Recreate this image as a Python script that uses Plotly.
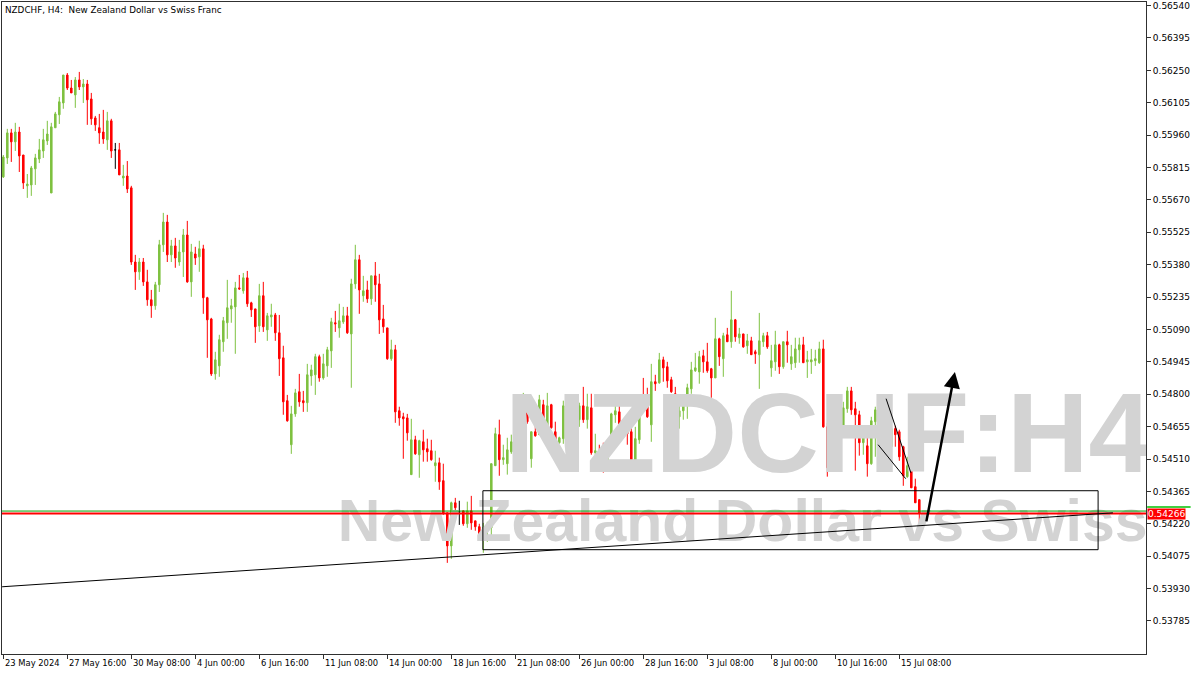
import plotly.graph_objects as go

# ---------------- data (NZDCHF, H4) ----------------
opens = [
    0.55773, 0.55858, 0.55970, 0.55930, 0.55974, 0.55871, 0.55733, 0.55737, 0.55809, 0.55853,
    0.55889, 0.55934, 0.55701, 0.55993, 0.56051, 0.56104, 0.56229, 0.56171, 0.56140, 0.56207,
    0.56176, 0.56189, 0.56122, 0.56037, 0.55993, 0.55974, 0.55939, 0.56024, 0.55894, 0.55894,
    0.55768, 0.55777, 0.55724, 0.55392, 0.55348, 0.55392, 0.55303, 0.55223, 0.55196, 0.55290,
    0.55469, 0.55571, 0.55424, 0.55464, 0.55392, 0.55437, 0.55513, 0.55303, 0.55428, 0.55415,
    0.55451, 0.55232, 0.55137, 0.54891, 0.54927, 0.55035, 0.55120, 0.55182, 0.55191, 0.55276,
    0.55263, 0.55321, 0.55209, 0.55182, 0.55106, 0.55241, 0.55088, 0.55146, 0.55155, 0.55075,
    0.54963, 0.54771, 0.54574, 0.54712, 0.54811, 0.54771, 0.54762, 0.54882, 0.54887, 0.54968,
    0.54873, 0.54927, 0.54994, 0.55120, 0.55097, 0.55124, 0.55151, 0.55070, 0.55294, 0.55402,
    0.55241, 0.55267, 0.55227, 0.55330, 0.55294, 0.55137, 0.55097, 0.54959, 0.54999, 0.54726,
    0.54699, 0.54694, 0.54440, 0.54596, 0.54529, 0.54587, 0.54556, 0.54547, 0.54480, 0.54493,
    0.54413, 0.54269, 0.54121, 0.54314, 0.54274, 0.54278, 0.54220, 0.54278, 0.54233, 0.54207,
    0.54157, 0.54198, 0.54202, 0.54480, 0.54619, 0.54507, 0.54489, 0.54542, 0.54583, 0.54659,
    0.54703, 0.54717, 0.54511, 0.54632, 0.54619, 0.54753, 0.54627, 0.54753, 0.54632, 0.54583,
    0.54601, 0.54748, 0.54708, 0.54677, 0.54686, 0.54748, 0.54686, 0.54739, 0.54538, 0.54547,
    0.54511, 0.54458, 0.54569, 0.54708, 0.54721, 0.54672, 0.54632, 0.54632, 0.54498, 0.54596,
    0.54788, 0.54766, 0.54663, 0.54856, 0.54851, 0.54954, 0.54923, 0.54865, 0.54802, 0.54699,
    0.54726, 0.54762, 0.54824, 0.54905, 0.54900, 0.54972, 0.54945, 0.54914, 0.54873, 0.55048,
    0.54959, 0.55066, 0.55035, 0.55133, 0.55053, 0.55070, 0.55017, 0.55039, 0.54990, 0.54977,
    0.55035, 0.55062, 0.54918, 0.54945, 0.55021, 0.54923, 0.55035, 0.54936, 0.54941, 0.54999,
    0.55021, 0.54945, 0.54945, 0.54950, 0.54941, 0.55003, 0.54654, 0.54471, 0.54592, 0.54694,
    0.54636, 0.54735, 0.54815, 0.54735, 0.54708, 0.54583, 0.54569, 0.54489, 0.54677, 0.54730,
    0.54677, 0.54739, 0.54565, 0.54646, 0.54632, 0.54565, 0.54431, 0.54484, 0.54386, 0.54328,
]
highs = [
    0.55871, 0.55988, 0.55988, 0.56015, 0.55997, 0.55871, 0.55786, 0.55822, 0.55876, 0.55943,
    0.55988, 0.56024, 0.56015, 0.56064, 0.56131, 0.56229, 0.56238, 0.56207, 0.56220, 0.56243,
    0.56211, 0.56207, 0.56149, 0.56046, 0.56055, 0.56073, 0.56064, 0.56033, 0.55925, 0.55925,
    0.55827, 0.55844, 0.55733, 0.55424, 0.55410, 0.55410, 0.55357, 0.55267, 0.55303, 0.55491,
    0.55612, 0.55603, 0.55491, 0.55500, 0.55491, 0.55540, 0.55576, 0.55473, 0.55460, 0.55487,
    0.55469, 0.55236, 0.55142, 0.54990, 0.55066, 0.55146, 0.55312, 0.55227, 0.55303, 0.55334,
    0.55343, 0.55352, 0.55214, 0.55182, 0.55294, 0.55303, 0.55164, 0.55205, 0.55164, 0.55155,
    0.55017, 0.54797, 0.54748, 0.54824, 0.54891, 0.54815, 0.54936, 0.54932, 0.54981, 0.54977,
    0.54981, 0.55012, 0.55142, 0.55173, 0.55205, 0.55191, 0.55191, 0.55317, 0.55469, 0.55424,
    0.55330, 0.55308, 0.55330, 0.55392, 0.55339, 0.55200, 0.55097, 0.55044, 0.55021, 0.54744,
    0.54717, 0.54712, 0.54690, 0.54614, 0.54596, 0.54641, 0.54601, 0.54596, 0.54547, 0.54516,
    0.54489, 0.54269, 0.54319, 0.54336, 0.54323, 0.54278, 0.54319, 0.54345, 0.54233, 0.54220,
    0.54224, 0.54229, 0.54489, 0.54650, 0.54686, 0.54574, 0.54605, 0.54619, 0.54690, 0.54726,
    0.54806, 0.54726, 0.54632, 0.54672, 0.54797, 0.54775, 0.54806, 0.54757, 0.54677, 0.54610,
    0.54771, 0.54762, 0.54721, 0.54748, 0.54762, 0.54833, 0.54802, 0.54802, 0.54623, 0.54574,
    0.54583, 0.54583, 0.54717, 0.54775, 0.54748, 0.54686, 0.54690, 0.54654, 0.54654, 0.54797,
    0.54873, 0.54829, 0.54936, 0.54887, 0.54985, 0.54968, 0.54945, 0.54878, 0.54833, 0.54757,
    0.54771, 0.54847, 0.54945, 0.54985, 0.54994, 0.54999, 0.55030, 0.54918, 0.55142, 0.55053,
    0.55075, 0.55097, 0.55263, 0.55137, 0.55097, 0.55070, 0.55070, 0.55057, 0.54999, 0.55164,
    0.55075, 0.55079, 0.55021, 0.55084, 0.55026, 0.55035, 0.55084, 0.55021, 0.55053, 0.55053,
    0.55057, 0.54994, 0.55003, 0.54999, 0.55035, 0.55044, 0.54672, 0.54601, 0.54739, 0.54703,
    0.54766, 0.54833, 0.54833, 0.54766, 0.54726, 0.54636, 0.54627, 0.54699, 0.54744, 0.54739,
    0.54793, 0.54779, 0.54694, 0.54659, 0.54641, 0.54569, 0.54520, 0.54493, 0.54422, 0.54328,
]
lows = [
    0.55768, 0.55831, 0.55840, 0.55889, 0.55795, 0.55719, 0.55679, 0.55688, 0.55737, 0.55835,
    0.55858, 0.55916, 0.55701, 0.55993, 0.56010, 0.56078, 0.56162, 0.56149, 0.56082, 0.56162,
    0.56104, 0.56006, 0.56006, 0.55979, 0.55921, 0.55921, 0.55894, 0.55858, 0.55809, 0.55782,
    0.55733, 0.55701, 0.55379, 0.55267, 0.55312, 0.55285, 0.55196, 0.55142, 0.55178, 0.55258,
    0.55437, 0.55392, 0.55392, 0.55366, 0.55375, 0.55325, 0.55299, 0.55236, 0.55379, 0.55348,
    0.55160, 0.54963, 0.54882, 0.54865, 0.54878, 0.54990, 0.55048, 0.55120, 0.54981, 0.55267,
    0.55250, 0.55191, 0.55146, 0.55030, 0.55079, 0.55079, 0.55039, 0.55102, 0.55039, 0.54882,
    0.54708, 0.54677, 0.54533, 0.54699, 0.54744, 0.54721, 0.54721, 0.54838, 0.54797, 0.54856,
    0.54865, 0.54878, 0.54918, 0.55079, 0.55053, 0.55115, 0.55070, 0.54829, 0.55272, 0.55160,
    0.55214, 0.55209, 0.55200, 0.55214, 0.55070, 0.55075, 0.54954, 0.54950, 0.54672, 0.54659,
    0.54511, 0.54592, 0.54440, 0.54529, 0.54426, 0.54498, 0.54498, 0.54502, 0.54408, 0.54372,
    0.54260, 0.54045, 0.54063, 0.54251, 0.54215, 0.54211, 0.54202, 0.54193, 0.54189, 0.54157,
    0.54090, 0.54139, 0.54153, 0.54480, 0.54435, 0.54484, 0.54440, 0.54533, 0.54493, 0.54614,
    0.54703, 0.54668, 0.54471, 0.54610, 0.54619, 0.54623, 0.54623, 0.54646, 0.54538, 0.54578,
    0.54578, 0.54659, 0.54623, 0.54632, 0.54654, 0.54672, 0.54646, 0.54529, 0.54489, 0.54489,
    0.54449, 0.54458, 0.54560, 0.54672, 0.54627, 0.54623, 0.54574, 0.54489, 0.54493, 0.54578,
    0.54748, 0.54694, 0.54587, 0.54815, 0.54847, 0.54856, 0.54829, 0.54806, 0.54694, 0.54646,
    0.54686, 0.54690, 0.54802, 0.54900, 0.54847, 0.54896, 0.54896, 0.54784, 0.54873, 0.54927,
    0.54878, 0.55035, 0.55008, 0.55035, 0.55026, 0.55008, 0.54981, 0.54977, 0.54936, 0.54824,
    0.55012, 0.55003, 0.54878, 0.54905, 0.54891, 0.54914, 0.54941, 0.54909, 0.54918, 0.54941,
    0.54941, 0.54873, 0.54891, 0.54927, 0.54936, 0.54650, 0.54431, 0.54466, 0.54587, 0.54646,
    0.54632, 0.54717, 0.54708, 0.54458, 0.54525, 0.54529, 0.54431, 0.54484, 0.54520, 0.54569,
    0.54677, 0.54677, 0.54547, 0.54565, 0.54502, 0.54390, 0.54426, 0.54381, 0.54314, 0.54220,
]
closes = [
    0.55862, 0.55970, 0.55930, 0.55974, 0.55867, 0.55746, 0.55741, 0.55813, 0.55858, 0.55894,
    0.55939, 0.55965, 0.55997, 0.56055, 0.56109, 0.56229, 0.56171, 0.56149, 0.56207, 0.56176,
    0.56189, 0.56118, 0.56033, 0.56006, 0.55970, 0.55943, 0.56024, 0.55889, 0.55894, 0.55782,
    0.55777, 0.55719, 0.55392, 0.55348, 0.55392, 0.55303, 0.55223, 0.55196, 0.55290, 0.55469,
    0.55571, 0.55424, 0.55464, 0.55410, 0.55437, 0.55513, 0.55303, 0.55437, 0.55410, 0.55451,
    0.55232, 0.55133, 0.54891, 0.54954, 0.55044, 0.55129, 0.55187, 0.55196, 0.55276, 0.55272,
    0.55321, 0.55205, 0.55178, 0.55102, 0.55241, 0.55102, 0.55151, 0.55155, 0.55075, 0.54959,
    0.54766, 0.54681, 0.54712, 0.54806, 0.54766, 0.54762, 0.54887, 0.54909, 0.54968, 0.54873,
    0.54936, 0.54999, 0.55124, 0.55115, 0.55129, 0.55151, 0.55075, 0.55294, 0.55402, 0.55267,
    0.55263, 0.55227, 0.55330, 0.55290, 0.55133, 0.55102, 0.54959, 0.54999, 0.54721, 0.54694,
    0.54690, 0.54627, 0.54596, 0.54533, 0.54592, 0.54551, 0.54542, 0.54507, 0.54493, 0.54408,
    0.54269, 0.54121, 0.54314, 0.54292, 0.54274, 0.54220, 0.54278, 0.54224, 0.54207, 0.54175,
    0.54202, 0.54207, 0.54489, 0.54623, 0.54507, 0.54516, 0.54551, 0.54587, 0.54659, 0.54708,
    0.54721, 0.54677, 0.54632, 0.54614, 0.54775, 0.54623, 0.54748, 0.54650, 0.54583, 0.54605,
    0.54748, 0.54708, 0.54677, 0.54712, 0.54748, 0.54686, 0.54744, 0.54538, 0.54547, 0.54525,
    0.54458, 0.54574, 0.54712, 0.54726, 0.54668, 0.54641, 0.54623, 0.54498, 0.54601, 0.54788,
    0.54762, 0.54699, 0.54856, 0.54847, 0.54954, 0.54918, 0.54860, 0.54811, 0.54699, 0.54726,
    0.54766, 0.54829, 0.54909, 0.54918, 0.54968, 0.54945, 0.54905, 0.54873, 0.55048, 0.54968,
    0.55062, 0.55035, 0.55133, 0.55057, 0.55070, 0.55012, 0.55039, 0.54977, 0.54981, 0.55039,
    0.55062, 0.55012, 0.54950, 0.55021, 0.54923, 0.55035, 0.55021, 0.54968, 0.55003, 0.55021,
    0.54941, 0.54954, 0.54954, 0.54959, 0.55003, 0.54654, 0.54471, 0.54596, 0.54694, 0.54650,
    0.54739, 0.54815, 0.54730, 0.54708, 0.54583, 0.54605, 0.54489, 0.54681, 0.54730, 0.54686,
    0.54739, 0.54699, 0.54646, 0.54619, 0.54520, 0.54435, 0.54480, 0.54381, 0.54314, 0.54266,
]

time_tick_bars = [0, 16, 32, 48, 64, 80, 96, 112, 128, 144, 160, 176, 192, 208, 224]
time_tick_labels = ["23 May 2024", "27 May 16:00", "30 May 08:00", "4 Jun 00:00", "6 Jun 16:00",
                    "11 Jun 08:00", "14 Jun 00:00", "18 Jun 16:00", "21 Jun 08:00", "26 Jun 00:00",
                    "28 Jun 16:00", "3 Jul 08:00", "8 Jul 00:00", "10 Jul 16:00", "15 Jul 08:00"]
price_tick_values = [0.53785, 0.53930, 0.54075, 0.54220, 0.54365, 0.54510, 0.54655, 0.54800,
                     0.54945, 0.55090, 0.55235, 0.55380, 0.55525, 0.55670, 0.55815, 0.55960,
                     0.56105, 0.56250, 0.56395, 0.56540]
bid_price = 0.54266
ask_price = 0.54277

# ---------------- drawing objects (bar index, price) ----------------
trend_line = [(-0.3, 0.53938), (277.4, 0.54269)]
zone_rect = [(119.9, 0.54104), (273.7, 0.54368)]
wedge_upper = [(220.7, 0.54780), (226.9, 0.54448)]
wedge_lower = [(218.7, 0.54574), (225.6, 0.54422)]
arrow_tail = (230.7, 0.54224)
arrow_head = (237.9, 0.54900)

X_RANGE = [-0.325, 285.675]
Y_RANGE = [0.53637, 0.56556]

GREEN = "#7fc241"
RED = "#ff0000"
AXIS_FONT = dict(family="DejaVu Sans", size=9, color="#000000")
TIME_FONT = dict(family="DejaVu Sans", size=8.4, color="#000000")

idx = list(range(len(opens)))
normal = [i for i in idx if opens[i] != closes[i]]
doji = [i for i in idx if opens[i] == closes[i]]

fig = go.Figure()

# watermark (below candles)
fig.add_trace(go.Scatter(
    x=[125.4], y=[0.54579], mode="text", text=["NZDCHF:H4"], textposition="middle right",
    textfont=dict(family="Liberation Sans", size=113, color="#d3d3d3", weight="bold"),
    hoverinfo="skip", showlegend=False, cliponaxis=True))
fig.add_trace(go.Scatter(
    x=[83.6], y=[0.54207], mode="text", text=["New Zealand Dollar vs Swiss Franc"],
    textposition="middle right",
    textfont=dict(family="Liberation Sans", size=59, color="#d3d3d3", weight="bold"),
    hoverinfo="skip", showlegend=False, cliponaxis=True))

fig.add_trace(go.Candlestick(
    x=[idx[i] for i in normal],
    open=[opens[i] for i in normal], high=[highs[i] for i in normal],
    low=[lows[i] for i in normal], close=[closes[i] for i in normal],
    increasing=dict(line=dict(color=GREEN, width=1), fillcolor=GREEN),
    decreasing=dict(line=dict(color=RED, width=1), fillcolor=RED),
    whiskerwidth=0, hoverinfo="skip", showlegend=False))
fig.add_trace(go.Candlestick(
    x=[idx[i] for i in doji],
    open=[opens[i] for i in doji], high=[highs[i] for i in doji],
    low=[lows[i] for i in doji], close=[closes[i] for i in doji],
    increasing=dict(line=dict(color="#000000", width=1), fillcolor="#000000"),
    decreasing=dict(line=dict(color="#000000", width=1), fillcolor="#000000"),
    whiskerwidth=0, hoverinfo="skip", showlegend=False))

shapes = [
    dict(type="line", xref="x", yref="y", x0=X_RANGE[0], x1=X_RANGE[1], y0=ask_price, y1=ask_price,
         line=dict(color="#00a000", width=1)),
    dict(type="line", xref="x", yref="y", x0=X_RANGE[0], x1=X_RANGE[1], y0=bid_price, y1=bid_price,
         line=dict(color=RED, width=2)),
    dict(type="line", xref="x", yref="y", x0=trend_line[0][0], y0=trend_line[0][1],
         x1=trend_line[1][0], y1=trend_line[1][1], line=dict(color="#000000", width=1)),
    dict(type="rect", xref="x", yref="y", x0=zone_rect[0][0], y0=zone_rect[0][1],
         x1=zone_rect[1][0], y1=zone_rect[1][1], line=dict(color="#000000", width=1)),
    dict(type="line", xref="x", yref="y", x0=wedge_upper[0][0], y0=wedge_upper[0][1],
         x1=wedge_upper[1][0], y1=wedge_upper[1][1], line=dict(color="#000000", width=1)),
    dict(type="line", xref="x", yref="y", x0=wedge_lower[0][0], y0=wedge_lower[0][1],
         x1=wedge_lower[1][0], y1=wedge_lower[1][1], line=dict(color="#000000", width=1)),
]

def price_to_paper(p):
    return (p - Y_RANGE[0]) / (Y_RANGE[1] - Y_RANGE[0])

tag_top = price_to_paper(bid_price) + 6.5 / 652
shapes.append(dict(type="line", xref="paper", yref="paper", x0=1.001, x1=1.039, y0=tag_top, y1=tag_top,
                   line=dict(color="#00c000", width=1.5)))

annotations = [
    dict(x=arrow_head[0], y=arrow_head[1], ax=arrow_tail[0], ay=arrow_tail[1],
         xref="x", yref="y", axref="x", ayref="y", text="", showarrow=True,
         arrowhead=2, arrowsize=1.3, arrowwidth=2.5, arrowcolor="#000000", standoff=0),
    dict(x=0, y=1, xref="paper", yref="paper", xanchor="left", yanchor="top", xshift=1, yshift=-1,
         text="NZDCHF, H4:  New Zealand Dollar vs Swiss Franc", showarrow=False,
         font=dict(family="DejaVu Sans", size=8.8, color="#000000")),
    dict(x=1, y=bid_price, xref="paper", yref="y", xanchor="left", yanchor="middle", xshift=1,
         text="0.54266", showarrow=False, bgcolor=RED, borderpad=0,
         font=dict(family="DejaVu Sans", size=9, color="#ffffff")),
]
for b, lab in zip(time_tick_bars, time_tick_labels):
    annotations.append(dict(x=b, y=0, xref="x", yref="paper", xanchor="left", yanchor="top",
                            yshift=-2, text=lab, showarrow=False, font=TIME_FONT))

fig.update_layout(
    width=1200, height=675,
    margin=dict(l=2, r=54, t=2, b=21),
    paper_bgcolor="#ffffff", plot_bgcolor="#ffffff",
    boxgap=0.45,
    showlegend=False,
    shapes=shapes, annotations=annotations,
    xaxis=dict(range=X_RANGE, showgrid=False, zeroline=False, rangeslider=dict(visible=False),
               showline=True, mirror=True, linecolor="#303030", linewidth=1,
               ticks="outside", ticklen=4, tickcolor="#303030", tickvals=time_tick_bars,
               showticklabels=False, fixedrange=True),
    yaxis=dict(range=Y_RANGE, side="right", showgrid=False, zeroline=False,
               showline=True, mirror=True, linecolor="#303030", linewidth=1,
               ticks="outside", ticklen=4, tickcolor="#303030",
               tickvals=price_tick_values, ticktext=[f"{v:.5f}" for v in price_tick_values],
               tickfont=AXIS_FONT, fixedrange=True),
)

fig.write_html("out.html", config={"displayModeBar": False},
               post_script="document.body.style.margin='0';document.body.style.overflow='hidden';")
